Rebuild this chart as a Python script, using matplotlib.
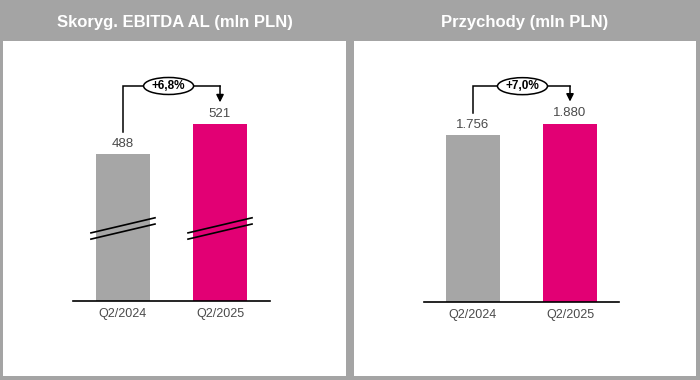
#!/usr/bin/env python3
"""Two-panel bar chart: adjusted EBITDA AL and revenue, Q2/2024 vs Q2/2025."""

import matplotlib
matplotlib.use("Agg")
import matplotlib.pyplot as plt
from matplotlib import transforms
from matplotlib.patches import Ellipse, Rectangle

CATEGORIES = ["Q2/2024", "Q2/2025"]

EBITDA_TITLE = "Skoryg. EBITDA AL (mln PLN)"
EBITDA_VALUES = [488, 521]
EBITDA_LABELS = ["488", "521"]
EBITDA_CHANGE = "+6,8%"

REVENUE_TITLE = "Przychody (mln PLN)"
REVENUE_VALUES = [1756, 1880]
REVENUE_LABELS = ["1.756", "1.880"]
REVENUE_CHANGE = "+7,0%"

BG_GRAY = "#a4a4a4"
BAR_COLORS = ["#a6a6a6", "#e20074"]
TEXT_GRAY = "#4a4a4a"
FONT = ["Liberation Sans", "DejaVu Sans"]

W, H = 700, 380


def fig_box(left, top, right, bottom):
    return [left / W, 1 - bottom / H, (right - left) / W, (bottom - top) / H]


def draw_panel(fig, panel, axes_px, xlim, ylim, title, values, labels, change,
               oval_x, broken=False):
    # white card + title on the gray background
    left, top, right, bottom = panel
    fig.add_artist(Rectangle((left / W, 1 - bottom / H), (right - left) / W,
                             (bottom - top) / H, transform=fig.transFigure,
                             facecolor="white", edgecolor="none", zorder=-5))
    fig.text((left + right) / 2 / W, 1 - 22 / H, title, ha="center", va="center",
             color="white", fontsize=12, fontweight="bold", family=FONT)

    ax = fig.add_axes(fig_box(*axes_px))
    ax.set_facecolor("none")
    base = ylim[0]
    xs = list(range(len(values)))
    heights = [v - base for v in values]
    ax.bar(xs, heights, bottom=base, width=0.557, color=BAR_COLORS, zorder=2)
    ax.set_xlim(*xlim)
    ax.set_ylim(*ylim)

    for s in ("top", "left", "right"):
        ax.spines[s].set_visible(False)
    ax.spines["bottom"].set_color("black")
    ax.spines["bottom"].set_linewidth(1.2)
    ax.spines["bottom"].set_zorder(3)
    ax.set_yticks([])
    ax.set_xticks(xs)
    ax.set_xticklabels(CATEGORIES, fontsize=9, color=TEXT_GRAY, family=FONT)
    ax.tick_params(axis="x", length=0, pad=5)

    for x, v, lab in zip(xs, values, labels):
        ax.annotate(lab, (x, v), xytext=(0, 3), textcoords="offset points",
                    ha="center", va="bottom", fontsize=9.5, color=TEXT_GRAY,
                    family=FONT)

    # bracket with the growth bubble
    axes_h = axes_px[3] - axes_px[1]
    span = ylim[1] - ylim[0]
    gap = 22 / axes_h * span
    y_br = ylim[0] + 0.827 * span
    ax.plot([xs[0], xs[0], xs[1]], [values[0] + gap, y_br, y_br],
            color="black", lw=1.1, solid_joinstyle="miter", zorder=4)
    ax.annotate("", xy=(xs[1], values[1] + gap), xytext=(xs[1], y_br),
                arrowprops=dict(arrowstyle="-|>", color="black", lw=1.1,
                                mutation_scale=11, shrinkA=0, shrinkB=0),
                zorder=4)
    oval_trans = fig.dpi_scale_trans + transforms.ScaledTranslation(
        oval_x, y_br, ax.transData)
    ax.add_patch(Ellipse((0, 0), 0.50, 0.17, transform=oval_trans,
                         facecolor="white", edgecolor="black", lw=1.1,
                         zorder=5, clip_on=False))
    ax.text(oval_x, y_br, change, ha="center", va="center", fontsize=8.5,
            fontweight="bold", color="black", family=FONT, zorder=6)

    if broken:
        trans = transforms.blended_transform_factory(ax.transData, ax.transAxes)
        for x in xs:
            for dy in (0.0, -0.024):
                ax.plot([x - 0.33, x + 0.33], [0.262 + dy, 0.320 + dy],
                        color="black", lw=1.2, transform=trans, zorder=4,
                        clip_on=False)
    return ax


fig = plt.figure(figsize=(7, 3.8), dpi=100, facecolor=BG_GRAY)

draw_panel(fig, (3, 41, 346, 376), (73, 41, 270, 301), (-0.515, 1.515),
           (326, 613), EBITDA_TITLE, EBITDA_VALUES, EBITDA_LABELS,
           EBITDA_CHANGE, 0.47, broken=True)
draw_panel(fig, (354, 41, 696, 376), (424, 41, 619, 302), (-0.505, 1.505),
           (0, 2750), REVENUE_TITLE, REVENUE_VALUES, REVENUE_LABELS,
           REVENUE_CHANGE, 0.51)

fig.savefig("out.png", dpi=100, facecolor=BG_GRAY)
